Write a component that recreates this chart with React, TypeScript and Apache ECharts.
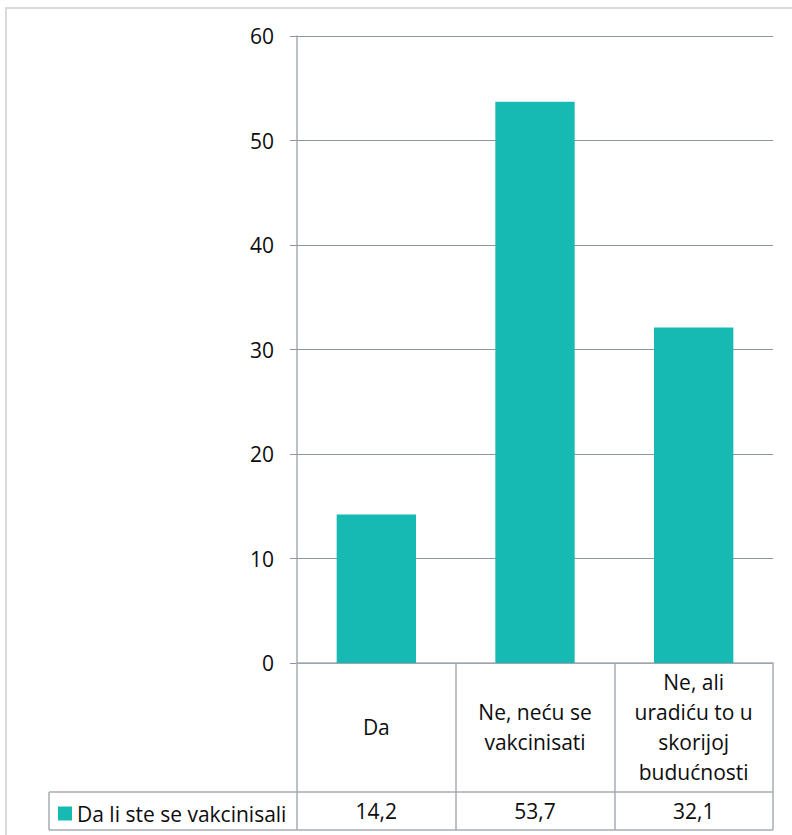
import React, { useEffect, useRef } from "react";
import * as echarts from "echarts";

const categories = ["Da", "Ne, neću se\nvakcinisati", "Ne, ali\nuradiću to u\nskorijoj\nbudućnosti"];
const values = [14.2, 53.7, 32.1];
const seriesName = "Da li ste se vakcinisali";
const yTicks = { min: 0, max: 60, interval: 10 };

const FONT = "'Open Sans', 'Noto Sans', sans-serif";
const FS = 21;
const BAR = "#17BAB3";
const GRID = "#8E959C";
const AXIS = "#A7ABB0";
const TXT = "#0d0d0d";

export default function App() {
  const ref = useRef<HTMLDivElement>(null);
  useEffect(() => {
    if (!ref.current) return;
    const chart = echarts.init(ref.current, undefined, { renderer: "svg" });
    chart.setOption({
      animation: false,
      backgroundColor: "#ffffff",
      textStyle: { fontFamily: FONT },
      grid: { left: 297, right: 19, top: 36, bottom: 172, containLabel: false },
      legend: {
        data: [seriesName],
        left: 53,
        top: 798,
        icon: "rect",
        itemWidth: 14,
        itemHeight: 14,
        textStyle: { fontSize: FS, color: TXT, fontFamily: FONT },
        selectedMode: false,
      },
      xAxis: [
        {
          type: "category",
          data: categories,
          boundaryGap: true,
          axisLine: { show: true, lineStyle: { color: AXIS, width: 1.5 } },
          axisTick: { show: true, length: 167, interval: 0, lineStyle: { color: AXIS, width: 1.5 } },
          axisLabel: {
            interval: 0,
            margin: 64,
            verticalAlign: "middle",
            align: "center",
            lineHeight: 30,
            fontSize: FS,
            color: TXT,
            fontFamily: FONT,
          },
          splitLine: { show: false },
        },
        {
          type: "category",
          position: "bottom",
          data: values.map((v) => v.toFixed(1).replace(".", ",")),
          boundaryGap: true,
          axisLine: { show: false },
          axisTick: { show: false },
          axisLabel: {
            interval: 0,
            margin: 148,
            verticalAlign: "middle",
            fontSize: FS,
            color: TXT,
            fontFamily: FONT,
          },
          splitLine: { show: false },
        },
      ],
      yAxis: {
        type: "value",
        min: yTicks.min,
        max: yTicks.max,
        interval: yTicks.interval,
        axisLine: { show: true, lineStyle: { color: AXIS, width: 1.5 } },
        axisTick: { show: true, length: 7, lineStyle: { color: GRID } },
        axisLabel: { margin: 23, fontSize: FS, color: TXT, fontFamily: FONT },
        splitLine: { show: true, lineStyle: { color: GRID, width: 1 } },
      },
      series: [
        {
          name: seriesName,
          type: "bar",
          xAxisIndex: 0,
          data: values,
          barWidth: "50%",
          itemStyle: { color: BAR },
        },
      ],
      graphic: [
        {
          type: "rect",
          shape: { x: 6, y: 8, width: 900, height: 900 },
          style: { fill: "none", stroke: "#D9D9D9", lineWidth: 2 },
          silent: true,
        },
        {
          type: "line",
          shape: { x1: 49, y1: 792, x2: 773, y2: 792 },
          style: { stroke: AXIS, lineWidth: 1.5 },
          silent: true,
        },
        {
          type: "line",
          shape: { x1: 49, y1: 830, x2: 773, y2: 830 },
          style: { stroke: AXIS, lineWidth: 1.5 },
          silent: true,
        },
        {
          type: "line",
          shape: { x1: 49, y1: 792, x2: 49, y2: 830 },
          style: { stroke: AXIS, lineWidth: 1.5 },
          silent: true,
        },
      ],
    });
    return () => chart.dispose();
  }, []);
  return (
    <div
      ref={ref}
      style={{ position: "fixed", left: 0, top: 0, width: 792, height: 835, background: "#fff" }}
    />
  );
}
